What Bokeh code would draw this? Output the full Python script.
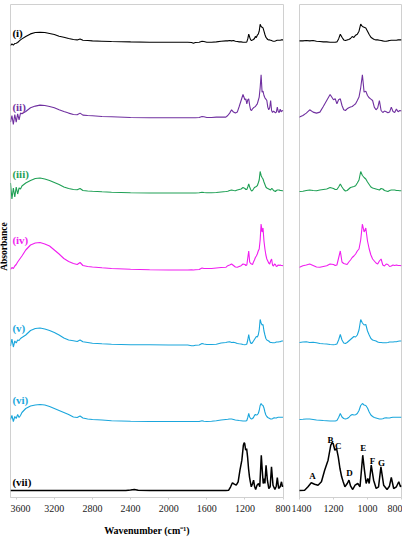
import math
from bokeh.plotting import figure
from bokeh.layouts import row
from bokeh.models import Range1d, FixedTicker, ColumnDataSource
from bokeh.core.properties import value
from bokeh.embed import file_html
from bokeh.resources import INLINE

# ---------------- data ----------------
wavenumber = [
    3660, 3645, 3630, 3615, 3600, 3585, 3570, 3555, 3540,
    3500, 3450, 3400, 3350, 3300, 3250, 3200, 3150, 3100, 3050, 3000,
    2960, 2930, 2900, 2850, 2800,
    2700, 2600, 2400, 2200, 2000, 1800,
    1760, 1740, 1720, 1680, 1650, 1630, 1600, 1550, 1500, 1450,
    1400, 1380, 1360, 1340, 1320, 1300, 1280, 1260, 1240, 1220, 1200,
    1190, 1180, 1170, 1160, 1150, 1140, 1130, 1120, 1110, 1100,
    1090, 1080, 1070, 1060, 1050, 1040, 1030, 1020, 1010, 1000,
    990, 980, 970, 960, 950, 940, 930, 920, 910, 900,
    890, 880, 870, 860, 850, 840, 830, 820, 810, 800,
]

spec_i = [
    -3.3, -1.7, -3.0, -1.3, -1.0, -0.3, 1.0, 2.3, 3.3,
    5.7, 8.3, 9.7, 10.0, 9.7, 8.7, 7.7, 6.0, 5.0, 3.7, 2.7,
    2.3, 3.3, 2.0, 1.7, 1.3,
    1.0, 0.7, 0.3, 0.0, 0.0, 0.0,
    -0.3, -1.0, -0.3, 0.0, 1.0, 0.7, 0.0, 0.0, 0.3, 1.0,
    1.3, 1.3, 1.7, 1.3, 1.7, 1.0, 0.7, 0.3, 0.3, 0.0, 0.0,
    0.0, 0.3, 3.3, 8.0, 5.0, 2.3, 1.7, 2.3, 2.7, 3.7,
    5.7, 4.7, 7.0, 8.0, 11.0, 18.0, 15.7, 15.0, 14.3, 11.0,
    7.7, 5.0, 3.7, 2.7, 2.3, 2.3, 2.0, 1.7, 1.3, 1.0,
    1.0, 1.3, 1.7, 2.0, 2.0, 2.0, 2.0, 2.3, 2.3, 2.3,
]
spec_ii = [
    -4.3, 2.3, -6.7, 3.3, -4.3, 4.0, -2.0, 4.7, 4.0,
    6.3, 10.0, 11.7, 12.7, 12.3, 11.3, 10.0, 8.0, 6.3, 4.7, 3.3,
    3.0, 4.7, 2.7, 2.3, 2.0,
    1.3, 1.0, 0.3, 0.0, 0.0, 0.0,
    0.0, 0.0, 0.0, 0.3, 1.3, 1.0, 0.3, 0.3, 0.7, 0.7,
    0.7, 2.3, 4.7, 8.0, 5.7, 4.7, 5.7, 11.3, 17.3, 23.3, 18.0,
    19.0, 14.0, 18.0, 19.0, 12.3, 8.0, 7.3, 9.0, 10.0, 10.7,
    11.3, 12.7, 14.0, 17.3, 20.7, 30.0, 43.0, 25.7, 26.7, 22.3,
    20.0, 18.7, 17.3, 10.7, 8.0, 10.0, 17.3, 7.3, 5.3, 6.7,
    6.0, 5.0, 5.7, 10.7, 6.3, 5.3, 8.7, 6.0, 7.3, 6.7,
]
spec_iii = [
    10.0, -6.0, 5.0, -4.0, 6.0, -1.0, 5.0, 4.0, 7.0,
    10.0, 12.5, 14.5, 15.0, 14.0, 12.5, 10.5, 8.5, 6.0, 4.5, 3.5,
    3.2, 4.5, 2.5, 2.0, 1.7,
    1.2, 0.8, 0.3, 0.0, 0.0, 0.0,
    0.0, 0.0, 0.0, 0.2, 0.8, 0.5, 0.2, 0.3, 0.5, 1.0,
    1.5, 1.8, 2.5, 3.0, 2.5, 2.2, 3.0, 3.5, 4.0, 5.5, 4.5,
    3.5, 3.5, 6.0, 9.0, 6.0, 3.5, 2.0, 2.5, 4.0, 5.5,
    6.0, 6.5, 7.3, 10.0, 13.0, 21.5, 17.5, 15.5, 14.0, 11.0,
    8.5, 6.0, 5.0, 4.5, 4.0, 3.5, 3.0, 4.5, 4.0, 2.5,
    2.0, 1.5, 2.5, 3.0, 3.0, 3.0, 2.5, 2.5, 2.3, 2.3,
]
spec_iv = [
    0.5, 2.5, 1.5, 4.0, 5.5, 8.0, 10.0, 12.0, 14.0,
    20.0, 25.0, 27.0, 27.5, 26.0, 24.0, 20.0, 16.0, 11.5, 8.5, 6.5,
    5.5, 7.5, 4.5, 3.5, 3.0,
    2.2, 1.5, 0.8, 0.3, 0.0, 0.0,
    0.3, 0.0, 0.3, 0.5, 2.0, 1.5, 1.5, 1.5, 2.0, 2.5,
    2.7, 4.3, 5.0, 6.0, 4.5, 3.0, 2.7, 3.5, 4.3, 6.0, 5.5,
    4.5, 5.0, 12.0, 19.0, 8.0, 6.5, 6.0, 5.5, 8.0, 10.0,
    12.5, 14.0, 16.0, 19.0, 21.0, 30.0, 46.0, 38.0, 42.0, 29.0,
    21.0, 15.0, 11.0, 9.0, 7.0, 6.0, 9.0, 11.0, 5.0, 4.0,
    6.0, 5.5, 3.5, 4.0, 5.0, 4.5, 5.0, 4.5, 4.5, 4.3,
]
spec_v = [
    -1.0, 6.0, -2.0, 4.0, 2.0, 5.0, 4.5, 6.5, 7.5,
    10.0, 14.5, 16.5, 17.0, 16.0, 14.5, 12.5, 10.0, 7.0, 5.0, 4.3,
    3.5, 5.0, 3.2, 2.5, 1.8,
    1.2, 0.8, 0.3, 0.2, 0.0, 0.0,
    -0.7, -0.8, -0.3, 0.0, 1.5, 1.0, 0.5, 0.5, 0.8, 2.0,
    2.5, 3.0, 3.2, 2.5, 2.8, 2.2, 1.5, 1.2, 1.0, 0.5, 0.3,
    0.5, 1.0, 5.0, 10.5, 5.0, 2.0, 1.5, 2.5, 4.0, 5.5,
    7.0, 8.5, 8.0, 10.0, 15.0, 25.5, 22.0, 20.0, 20.5, 14.0,
    10.0, 6.5, 5.0, 4.5, 4.0, 3.0, 2.5, 2.5, 2.3, 2.3,
    2.3, 2.5, 3.0, 3.0, 3.0, 3.3, 3.3, 3.7, 4.0, 4.0,
]
spec_vi = [
    2.0, 6.0, 0.0, 5.0, 3.0, 7.0, 4.0, 6.0, 9.0,
    13.0, 15.5, 16.5, 17.0, 16.5, 15.0, 13.0, 11.0, 9.0, 7.0, 4.5,
    4.0, 5.5, 3.5, 2.5, 2.0,
    1.5, 0.8, 0.3, 0.0, 0.0, 0.0,
    0.0, 0.0, 0.0, 0.0, 0.8, 0.3, 0.0, 0.3, 0.8, 1.5,
    2.0, 2.2, 2.5, 2.5, 2.0, 1.5, 1.3, 1.0, 0.8, 0.5, 0.5,
    0.5, 1.0, 4.0, 8.0, 4.5, 3.0, 2.5, 3.0, 4.0, 6.0,
    7.0, 6.5, 6.8, 8.0, 11.0, 16.0, 18.0, 16.5, 16.0, 13.5,
    9.5, 6.5, 5.0, 4.0, 3.5, 3.0, 2.5, 2.5, 2.8, 3.5,
    3.8, 3.5, 3.5, 4.0, 4.2, 4.2, 4.3, 4.3, 4.3, 4.3,
]

wavenumber_vii = [
    3660, 2450, 2400, 2360, 2320, 2200, 1500, 1400, 1370, 1350, 1331, 1311,
    1291, 1271, 1252, 1232, 1216, 1208, 1202, 1192, 1182, 1172, 1162, 1152,
    1143, 1133, 1119, 1109, 1099, 1087, 1073, 1057, 1044, 1028, 1018, 1008,
    998, 990, 978, 964, 949, 935, 921, 905, 885, 871, 860, 846, 830, 816,
    806, 800,
]
spec_vii = [
    0.0, 0.0, 0.5, 1.0, 0.3, 0.0, 0.0, 0.0, 0.3, 3.7, 7.7, 6.3,
    5.3, 8.7, 20.3, 30.3, 45.3, 47.7, 47.0, 40.3, 42.0, 33.7, 22.0, 13.7,
    8.7, 3.7, 7.0, 10.3, 4.3, 1.0, 5.3, 7.0, 3.7, 35.3, 20.3, 7.0,
    12.0, 7.0, 25.3, 10.3, 2.0, 3.7, 23.7, 5.3, 1.0, 4.3, 13.0, 2.0, 3.7, 8.7,
    3.7, 5.0,
]

series_names = ["(i)", "(ii)", "(iii)", "(iv)", "(v)", "(vi)", "(vii)"]
series_offsets = [455.3, 379.7, 304.5, 227.5, 152.5, 76.0, 7.0]
series_colors = ["#000000", "#7030A0", "#1FA055", "#F01EF0", "#1AA6DC", "#1AA6DC", "#000000"]
series_widths = [1.1, 1.1, 1.1, 1.1, 1.1, 1.1, 1.5]
label_y = [465.0, 391.0, 324.0, 257.3, 170.0, 98.0, 16.0]
label_w = 3640

peak_letters = ["A", "B", "C", "D", "E", "F", "G"]
peak_w = [1324, 1218, 1172, 1106, 1025, 971, 918]
peak_y = [21.3, 58.0, 51.3, 24.3, 49.3, 37.0, 34.3]

left_ticks = [3600, 3200, 2800, 2400, 2000, 1600, 1200, 800]
right_ticks = [1400, 1200, 1000, 800]
y_title = "Absorbance"
x_title = "Wavenumber (cm\u207b\u00b9)"

SERIF = "Liberation Serif"
FRAME_GRAY = "#d0d0d0"


def make_panel(frame_w, x_start, x_end, ticks, border_l, border_r):
    p = figure(frame_width=frame_w, frame_height=493,
               x_range=Range1d(x_start, x_end), y_range=Range1d(0, 493),
               y_axis_type=None, output_backend="svg", toolbar_location=None,
               min_border_left=border_l, min_border_right=border_r,
               min_border_top=4, min_border_bottom=20)
    p.grid.visible = False
    p.outline_line_color = FRAME_GRAY
    p.outline_line_width = 1
    p.background_fill_color = "white"
    p.border_fill_color = "white"
    ax = p.xaxis[0]
    ax.ticker = FixedTicker(ticks=ticks)
    ax.minor_tick_line_color = None
    ax.major_tick_in = 0
    ax.major_tick_out = 2
    ax.major_tick_line_color = FRAME_GRAY
    ax.axis_line_color = FRAME_GRAY
    ax.major_label_text_font = SERIF
    ax.major_label_text_font_size = "10px"
    ax.major_label_text_color = "#222222"
    ax.major_label_standoff = 5
    spectra = [spec_i, spec_ii, spec_iii, spec_iv, spec_v, spec_vi]
    for k, spec in enumerate(spectra):
        ys = [series_offsets[k] + v for v in spec]
        p.line(wavenumber, ys, line_color=series_colors[k], line_width=series_widths[k])
    ys7 = [series_offsets[6] + v for v in spec_vii]
    p.line(wavenumber_vii, ys7, line_color=series_colors[6], line_width=series_widths[6])
    return p


# narrow strip holding the vertical y-axis title
ylab = figure(frame_width=10, frame_height=538, x_range=Range1d(0, 10), y_range=Range1d(0, 538),
              x_axis_type=None, y_axis_type=None, output_backend="svg", toolbar_location=None,
              min_border=0, outline_line_color=None)
ylab.grid.visible = False
ylab.text(x=[3.5], y=[296], text=[y_title], angle=math.pi / 2,
          text_font=value(SERIF), text_font_style="bold", text_font_size="9.5px",
          text_color="#000000", text_align="center", text_baseline="middle")

left = make_panel(273, 3660, 795, left_ticks, 0, 8)
left.xaxis.axis_label = x_title
left.xaxis.axis_label_text_font = SERIF
left.xaxis.axis_label_text_font_style = "bold"
left.xaxis.axis_label_text_font_size = "10px"
left.xaxis.axis_label_text_color = "#000000"
left.xaxis.axis_label_standoff = 10

lab_src = ColumnDataSource(data=dict(
    x=[label_w] * len(series_names), y=label_y, text=series_names, color=series_colors))
left.text(x="x", y="y", text="text", text_color="color", source=lab_src,
          text_font=value(SERIF), text_font_style="bold", text_font_size="11px",
          text_align="left", text_baseline="middle")

right = make_panel(102, 1400, 800, right_ticks, 8, 1)
pk_src = ColumnDataSource(data=dict(x=peak_w, y=peak_y, text=peak_letters))
right.text(x="x", y="y", text="text", source=pk_src, text_color="#000000",
           text_font=value(SERIF), text_font_style="bold", text_font_size="9px",
           text_align="center", text_baseline="middle")

layout = row(ylab, left, right)
open("out.html", "w").write(file_html(layout, INLINE))
